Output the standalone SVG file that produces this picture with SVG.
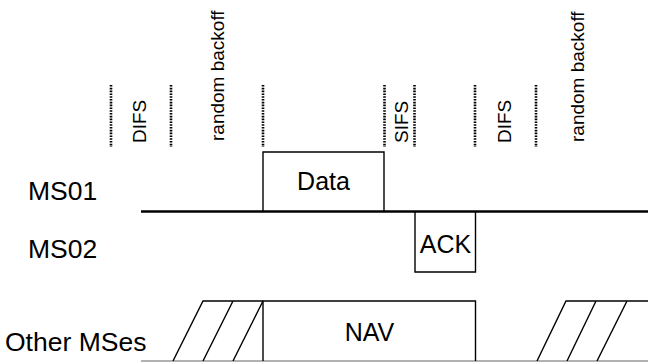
<svg xmlns="http://www.w3.org/2000/svg" width="648" height="362" viewBox="0 0 648 362">
<style>
  .lbl { font-family: "Liberation Sans", Arial, sans-serif; font-size: 26.5px; fill: #000; }
  .bl { font-family: "Liberation Sans", Arial, sans-serif; font-size: 25px; fill: #000; }
  .vl { font-family: "Liberation Sans", Arial, sans-serif; font-size: 19px; fill: #000; }
  .dot { stroke: #000; stroke-width: 2.6; stroke-dasharray: 1.6 1.2; fill: none; }
  .ln { stroke: #000; stroke-width: 1.4; fill: none; }
</style>
<rect width="648" height="362" fill="#fff"/>
<g id="markers">
  <line class="dot" x1="111" y1="85" x2="111" y2="147"/>
  <line class="dot" x1="171" y1="85" x2="171" y2="147"/>
  <line class="dot" x1="263" y1="85" x2="263" y2="147"/>
  <line class="dot" x1="384.5" y1="85" x2="384.5" y2="147"/>
  <line class="dot" x1="414.5" y1="85" x2="414.5" y2="147"/>
  <line class="dot" x1="475" y1="85" x2="475" y2="147"/>
  <line class="dot" x1="536" y1="85" x2="536" y2="147"/>
  <text class="vl" transform="translate(146,143) rotate(-90)">DIFS</text>
  <text class="vl" transform="translate(224,141) rotate(-90)">random backoff</text>
  <text class="vl" transform="translate(408,143) rotate(-90)">SIFS</text>
  <text class="vl" transform="translate(511,143) rotate(-90)">DIFS</text>
  <text class="vl" transform="translate(583.5,142) rotate(-90)">random backoff</text>
</g>
<g id="labels">
  <text class="lbl" x="28" y="199.5">MS01</text>
  <text class="lbl" x="28" y="257.5">MS02</text>
  <text class="lbl" x="5" y="351">Other MSes</text>
</g>
<g id="connectors">
  <line x1="141" y1="211.5" x2="648" y2="211.5" stroke="#000" stroke-width="2.6"/>
  <line x1="141" y1="361" x2="648" y2="361" stroke="#999" stroke-width="1.6"/>
</g>
<g id="data">
  <path class="ln" d="M263,211 V152 H384 V211"/>
  <text class="bl" x="323.5" y="190" text-anchor="middle">Data</text>
</g>
<g id="ack">
  <path class="ln" d="M415,212 V272 H475.5 V212"/>
  <text class="bl" x="445.5" y="252.5" text-anchor="middle">ACK</text>
</g>
<g id="backoff-left">
  <path class="ln" d="M173,361 L203,301 H263 M203,361 L233,301 M233,361 L263,301"/>
</g>
<g id="nav">
  <path class="ln" d="M263,361 V301 H475.5 V361"/>
  <text class="bl" x="369.5" y="340.5" text-anchor="middle">NAV</text>
</g>
<g id="backoff-right">
  <path class="ln" d="M537,361 L566,301 H648 M567,361 L596,301 M597,361 L627,301"/>
</g>
</svg>
